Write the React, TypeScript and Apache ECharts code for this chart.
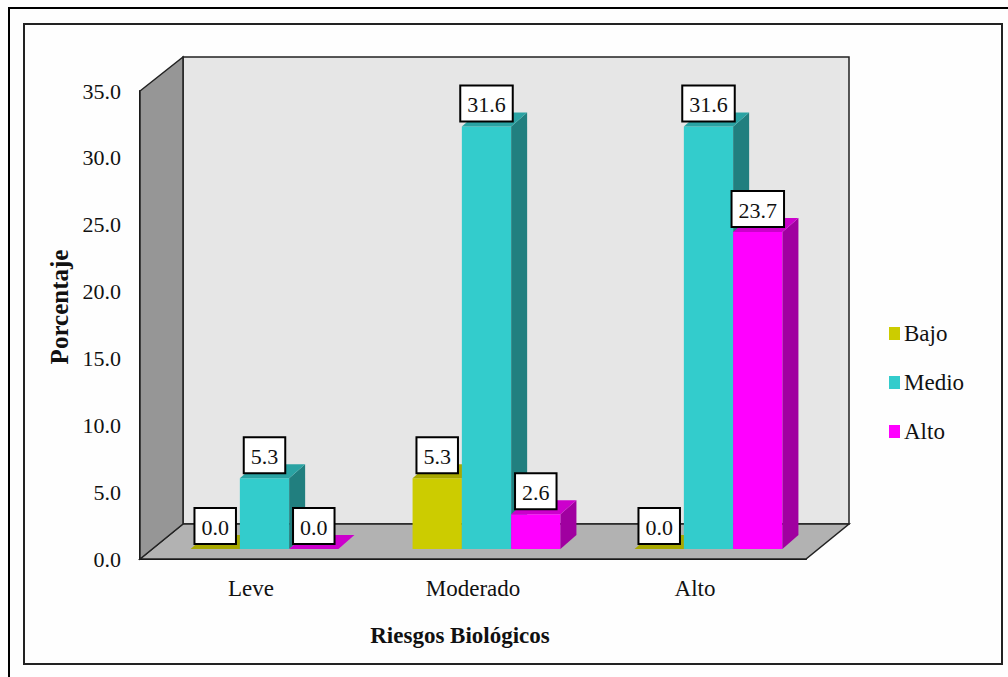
import React, { useEffect, useRef } from "react";
import * as echarts from "echarts";

const categories = ["Leve", "Moderado", "Alto"];
const bajo = [0.0, 5.3, 0.0];
const medio = [5.3, 31.6, 31.6];
const alto = [0.0, 2.6, 23.7];
const yTicks = { min: 0, max: 35, interval: 5 };
const FONT = '"Liberation Serif", "Times New Roman", serif';

const WALL_DX = 43;
const WALL_DY = 35;
const BAR_DX = 16;
const BAR_DY = 14;
const SHIFT_X = 13.5;
const SHIFT_Y = 10;
const BAR_RATIO = 0.222;

const palettes = [
  { front: "#CCCC00", top: "#A8A800", side: "#8F8F00" },
  { front: "#33CCCC", top: "#2AA3A3", side: "#217F7F" },
  { front: "#FF00FF", top: "#CC00CC", side: "#A000A0" },
];

function barRenderer(seriesPos: number) {
  const pal = palettes[seriesPos];
  return (_p: any, api: any) => {
    const cat = api.value(0);
    const val = api.value(1);
    const [cx, y0] = api.coord([cat, 0]);
    const [, yv] = api.coord([cat, val]);
    const band = api.size([1, 0])[0];
    const w = band * BAR_RATIO;
    const x1 = cx + SHIFT_X + (seriesPos - 1.5) * w;
    const x2 = x1 + w;
    const bottom = y0 - SHIFT_Y;
    const top = yv - SHIFT_Y;
    const children: any[] = [];
    if (top < bottom) {
      children.push({
        type: "rect",
        shape: { x: x1, y: top, width: w, height: bottom - top },
        style: { fill: pal.front },
      });
      children.push({
        type: "polygon",
        shape: { points: [[x2, top], [x2 + BAR_DX, top - BAR_DY], [x2 + BAR_DX, bottom - BAR_DY], [x2, bottom]] },
        style: { fill: pal.side },
      });
    }
    children.push({
      type: "polygon",
      shape: { points: [[x1, top], [x2, top], [x2 + BAR_DX, top - BAR_DY], [x1 + BAR_DX, top - BAR_DY]] },
      style: { fill: pal.top },
    });
    children.push({
      type: "text",
      z2: 100,
      style: {
        text: val.toFixed(1),
        x: (x1 + x2) / 2,
        y: top - 6,
        align: "center",
        verticalAlign: "bottom",
        font: `22px ${FONT}`,
        fill: "#111",
        backgroundColor: "#fff",
        borderColor: "#000",
        borderWidth: 2,
        padding: [7, 6, 5, 6],
      },
    });
    return { type: "group", children };
  };
}

function wallRenderer(params: any) {
  const c = params.coordSys;
  const l = c.x, r = c.x + c.width, t = c.y, b = c.y + c.height;
  const line = { stroke: "#222", lineWidth: 1.5, lineJoin: "miter" };
  return {
    type: "group",
    children: [
      {
        type: "polygon",
        shape: { points: [[l + WALL_DX, t - WALL_DY + 1], [r + WALL_DX, t - WALL_DY + 1], [r + WALL_DX, b - WALL_DY], [l + WALL_DX, b - WALL_DY]] },
        style: { fill: "#E6E6E6", ...line },
      },
      {
        type: "polygon",
        shape: { points: [[l, b], [r, b], [r + WALL_DX, b - WALL_DY], [l + WALL_DX, b - WALL_DY]] },
        style: { fill: "#B2B2B2", ...line },
      },
      {
        type: "polygon",
        shape: { points: [[l, t], [l + WALL_DX, t - WALL_DY + 1], [l + WALL_DX, b - WALL_DY], [l, b]] },
        style: { fill: "#969696", ...line },
      },
    ],
  };
}

export default function App() {
  const ref = useRef<HTMLDivElement>(null);
  useEffect(() => {
    const chart = echarts.init(ref.current!, undefined, { renderer: "svg" });
    const mkSeries = (name: string, values: number[], i: number) => ({
      name,
      type: "custom",
      renderItem: barRenderer(i),
      encode: { x: 0, y: 1 },
      itemStyle: { color: palettes[i].front },
      data: values.map((v, c) => [c, v]),
      silent: true,
    });
    chart.setOption({
      animation: false,
      backgroundColor: "#FEFEFE",
      textStyle: { fontFamily: FONT },
      grid: { left: 140, top: 91, width: 666, height: 468, containLabel: false },
      xAxis: {
        type: "category",
        data: categories,
        axisTick: { show: false },
        axisLine: { lineStyle: { color: "#000", width: 2 } },
        axisLabel: { color: "#111", fontSize: 23, fontFamily: FONT, margin: 18 },
        name: "Riesgos Biológicos",
        nameLocation: "middle",
        nameGap: 65,
        nameTextStyle: { color: "#111", fontSize: 23, fontWeight: "bold", fontFamily: FONT, padding: [0, 26, 0, 0] },
      },
      yAxis: {
        type: "value",
        ...yTicks,
        splitLine: { show: false },
        axisTick: { show: false },
        axisLine: { show: true, lineStyle: { color: "#000", width: 2 } },
        axisLabel: { color: "#111", fontSize: 22, fontFamily: FONT, margin: 19, formatter: (v: number) => v.toFixed(1) },
        name: "Porcentaje",
        nameLocation: "middle",
        nameGap: 68,
        nameTextStyle: { color: "#111", fontSize: 25, fontWeight: "bold", fontFamily: FONT, padding: [0, 0, 0, 36] },
      },
      legend: {
        orient: "vertical",
        left: 889,
        top: 322,
        padding: 0,
        itemWidth: 11,
        itemHeight: 13,
        itemGap: 26,
        icon: "rect",
        data: ["Bajo", "Medio", "Alto"],
        textStyle: { color: "#111", fontSize: 23, fontFamily: FONT, padding: [0, 0, 0, -1] },
      },
      series: [
        { name: "walls", type: "custom", renderItem: wallRenderer, data: [[0, 0]], encode: { x: 0, y: 1 }, silent: true, z: 1 },
        mkSeries("Bajo", bajo, 0),
        mkSeries("Medio", medio, 1),
        mkSeries("Alto", alto, 2),
      ],
      graphic: [
        { type: "rect", silent: true, shape: { x: 24, y: 24, width: 978, height: 640 }, style: { fill: "none", stroke: "#222", lineWidth: 2 } },
        { type: "polyline", silent: true, shape: { points: [[9, 677], [9, 8], [1008, 8]] }, style: { fill: "none", stroke: "#000", lineWidth: 2 } },
      ],
    });
    return () => chart.dispose();
  }, []);
  return <div ref={ref} style={{ position: "absolute", left: 0, top: 0, width: 1008, height: 677 }} />;
}
